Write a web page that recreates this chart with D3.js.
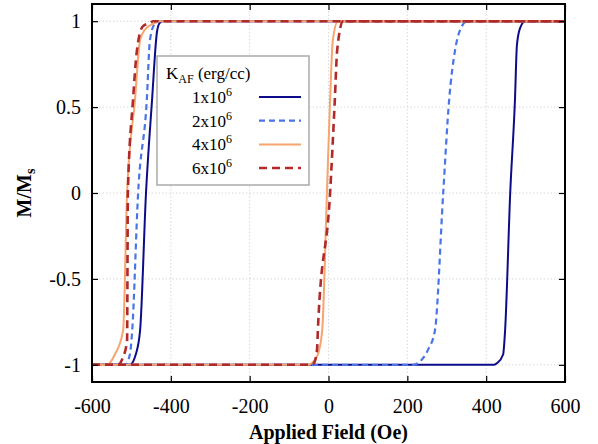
<!DOCTYPE html>
<html>
<head>
<meta charset="utf-8">
<script src="https://cdn.jsdelivr.net/npm/d3@7"></script>
<style>
  html, body { margin: 0; padding: 0; background: #fff; }
</style>
</head>
<body>
<svg id="chart" width="598" height="444"></svg>
<script>
// Hysteresis loops M/Ms vs applied field for four antiferromagnetic anisotropy constants.
// Each loop: descending branch (+600 -> -600 Oe) followed by ascending branch (-600 -> +600 Oe).
const seriesLabels = ["1x10", "2x10", "4x10", "6x10"];
const xTicks = [-600, -400, -200, 0, 200, 400, 600];
const yTicks = [-1, -0.5, 0, 0.5, 1];
const yTickLabels = ["-1", "-0.5", "0", "0.5", "1"];

const fieldK1 = [600, -420, -428, -435, -448, -463, -478, -489, -504, -600,
                 -600, 420, 428, 443, 448, 461, 473, 478, 486, 499, 600];
const magK1   = [1, 1, 0.99, 0.94, 0.53, 0, -0.8, -0.94, -1, -1,
                 -1, -1, -0.99, -0.94, -0.8, 0, 0.54, 0.86, 0.96, 1, 1];

const fieldK2 = [600, -435, -440, -453, -461, -483, -498, -504, -516, -600,
                 -600, 215, 227, 253, 270, 291, 306, 321, 334, 352, 600];
const magK2   = [1, 1, 0.99, 0.89, 0.54, 0, -0.8, -0.94, -1, -1,
                 -1, -1, -0.99, -0.91, -0.8, 0, 0.54, 0.83, 0.95, 1, 1];

const fieldK4 = [600, -430, -440, -466, -478, -491, -511, -521, -542, -562, -600,
                 -600, -50, -42, -27, -16, -4, 4, 11, 24, 600];
const magK4   = [1, 1, 0.99, 0.95, 0.89, 0.54, 0, -0.8, -0.94, -1, -1,
                 -1, -1, -0.99, -0.94, -0.8, 0, 0.54, 0.89, 1, 1];

const fieldK6 = [600, -445, -453, -471, -486, -496, -509, -511, -524, -534, -600,
                 -600, -45, -37, -29, -27, 4, 16, 22, 37, 600];
const magK6   = [1, 1, 0.99, 0.97, 0.83, 0.54, 0, -0.86, -0.97, -1, -1,
                 -1, -1, -0.99, -0.91, -0.8, 0, 0.54, 0.83, 1, 1];

const seriesFields = [fieldK1, fieldK2, fieldK4, fieldK6];
const seriesMags = [magK1, magK2, magK4, magK6];
const seriesColors = ["#0c0c8a", "#4a74e8", "#f7a46e", "#b02a2a"];
const seriesDash = [null, "6,4", null, "8,5"];
const seriesWidth = [2, 2.2, 2, 2.6];

const FONT = "Liberation Serif";

const svg = d3.select("#chart");
const plotL = 92, plotR = 565, plotT = 4, plotB = 382;

const x = d3.scaleLinear().domain([-600, 600]).range([plotL, plotR]);
const y = d3.scaleLinear().domain([-1.1, 1.1]).range([plotB, plotT]);

// Grid
const grid = svg.append("g");
grid.selectAll("line.gx").data(xTicks.slice(1, -1)).join("line")
  .attr("x1", d => x(d)).attr("x2", d => x(d))
  .attr("y1", plotT).attr("y2", plotB)
  .attr("stroke", "#cfcfcf").attr("stroke-width", 0.8).attr("stroke-dasharray", "1.5,2");
grid.selectAll("line.gy").data(yTicks).join("line")
  .attr("x1", plotL).attr("x2", plotR)
  .attr("y1", d => y(d)).attr("y2", d => y(d))
  .attr("stroke", "#cfcfcf").attr("stroke-width", 0.8).attr("stroke-dasharray", "1.5,2");

// Curves: each loop is split into its two branches, each monotone in field
const line = d3.line()
  .x(d => x(d[0])).y(d => y(d[1]))
  .curve(d3.curveMonotoneX);

const curves = svg.append("g");
seriesFields.forEach((f, i) => {
  const pts = f.map((h, j) => [h, seriesMags[i][j]]);
  const split = f.indexOf(-600) + 1;
  const down = pts.slice(0, split).reverse();
  const up = pts.slice(split);
  [down, up].forEach(branch => {
    curves.append("path")
      .attr("d", line(branch))
      .attr("fill", "none")
      .attr("stroke", seriesColors[i])
      .attr("stroke-width", seriesWidth[i])
      .attr("stroke-dasharray", seriesDash[i]);
  });
});

// Axes (ticks pointing inward on all four sides)
const tickLen = 6;
const axB = svg.append("g").attr("transform", `translate(0,${plotB})`)
  .call(d3.axisBottom(x).tickValues(xTicks).tickSize(-tickLen).tickPadding(17).tickFormat(d => String(d)));
const axT = svg.append("g").attr("transform", `translate(0,${plotT})`)
  .call(d3.axisTop(x).tickValues(xTicks).tickSize(-tickLen).tickFormat(""));
const axL = svg.append("g").attr("transform", `translate(${plotL},0)`)
  .call(d3.axisLeft(y).tickValues(yTicks).tickSize(-tickLen).tickPadding(11)
    .tickFormat((d, i) => yTickLabels[i]));
const axR = svg.append("g").attr("transform", `translate(${plotR},0)`)
  .call(d3.axisRight(y).tickValues(yTicks).tickSize(-tickLen).tickFormat(""));

[axB, axT, axL, axR].forEach(a => {
  a.attr("font-family", FONT).attr("font-size", 20);
  a.select(".domain").remove();
  a.selectAll(".tick line").attr("stroke", "#000").attr("stroke-width", 1.2);
  a.selectAll("text").attr("fill", "#000");
});

// Frame
svg.append("rect")
  .attr("x", plotL).attr("y", plotT)
  .attr("width", plotR - plotL).attr("height", plotB - plotT)
  .attr("fill", "none").attr("stroke", "#000").attr("stroke-width", 2);

// Axis titles
svg.append("text")
  .attr("x", (plotL + plotR) / 2).attr("y", 439)
  .attr("text-anchor", "middle")
  .attr("font-family", FONT)
  .attr("font-size", 20).attr("font-weight", "bold")
  .text("Applied Field (Oe)");

const yl = svg.append("text")
  .attr("transform", `translate(31,${y(0)}) rotate(-90)`)
  .attr("text-anchor", "middle")
  .attr("font-family", FONT)
  .attr("font-size", 20).attr("font-weight", "bold");
yl.append("tspan").text("M/M");
yl.append("tspan").attr("font-size", 14).attr("dy", 4).text("s");

// Legend
const lg = svg.append("g").attr("font-family", FONT);
lg.append("rect")
  .attr("x", 157).attr("y", 56).attr("width", 152).attr("height", 129)
  .attr("fill", "#fff").attr("stroke", "#aaa").attr("stroke-width", 1.5);
const title = lg.append("text").attr("x", 166).attr("y", 79).attr("font-size", 17);
title.append("tspan").text("K");
title.append("tspan").attr("font-size", 12).attr("dy", 4).text("AF");
title.append("tspan").attr("dy", -4).text(" (erg/cc)");

const legendY = [97, 120.7, 144.4, 168];
seriesLabels.forEach((lab, i) => {
  const t = lg.append("text").attr("x", 232).attr("y", legendY[i] + 6)
    .attr("text-anchor", "end").attr("font-size", 17);
  t.append("tspan").text(lab);
  t.append("tspan").attr("font-size", 12).attr("dy", -7).text("6");
  lg.append("line")
    .attr("x1", 259).attr("x2", 301)
    .attr("y1", legendY[i]).attr("y2", legendY[i])
    .attr("stroke", seriesColors[i])
    .attr("stroke-width", seriesWidth[i])
    .attr("stroke-dasharray", seriesDash[i]);
});
</script>
</body>
</html>
